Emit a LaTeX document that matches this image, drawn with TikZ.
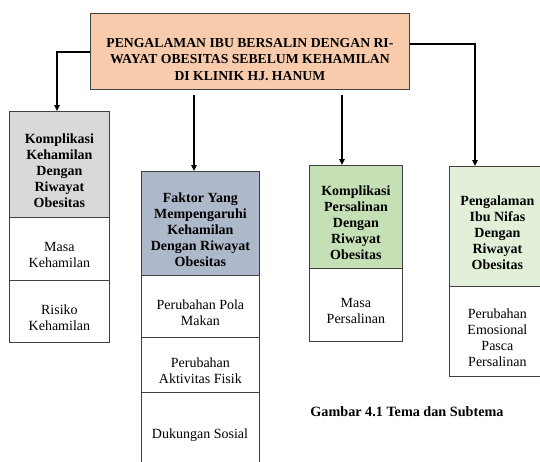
\documentclass[tikz,border=0pt]{standalone}
\usepackage{fontspec}
\setmainfont{Liberation Serif}
\usetikzlibrary{arrows.meta}
\definecolor{peach}{HTML}{F8CBAD}
\definecolor{grayh}{HTML}{D9D9D9}
\definecolor{blueh}{HTML}{ADB9CA}
\definecolor{greenh}{HTML}{C5E0B4}
\definecolor{lgreenh}{HTML}{E2F0D9}
\definecolor{bordc}{HTML}{404040}
\tikzset{
  cell/.style={draw=bordc, line width=0.8pt, anchor=north west, inner sep=0pt},
  hd/.style={font=\fontsize{14}{16}\selectfont\bfseries, align=center, inner sep=0pt},
  sb/.style={font=\fontsize{14}{16}\selectfont, align=center, inner sep=0pt},
  arr/.style={line width=1.3pt, -{Triangle[length=6pt,width=5.5pt]}},
}
\begin{document}
\begin{tikzpicture}[x=1pt,y=-1pt]
\useasboundingbox (0,0) rectangle (540,461);
\clip (0,0) rectangle (540,461);
\fill[white] (0,0) rectangle (540,461);
% top
\node[cell, fill=peach, minimum width=319pt, minimum height=76pt] (top) at (90,13) {};
\node[hd, font=\fontsize{13.7}{16.5}\selectfont\bfseries] (topt) at ([yshift=-8pt]top.center) {PENGALAMAN IBU BERSALIN DENGAN RI-\\WAYAT OBESITAS SEBELUM KEHAMILAN\\DI KLINIK HJ. HANUM};
% column 1
\node[cell, fill=grayh, minimum width=100pt, minimum height=106pt] (b1h) at (9,111) {};
\node[cell, minimum width=100pt, minimum height=63pt] (b1a) at (9,217) {};
\node[cell, minimum width=100pt, minimum height=62pt] (b1b) at (9,280) {};
\node[hd] (b1ht) at ([yshift=-6pt]b1h.center) {Komplikasi\\Kehamilan\\Dengan\\Riwayat\\Obesitas};
\node[sb] (b1at) at ([yshift=-6pt]b1a.center) {Masa\\Kehamilan};
\node[sb] (b1bt) at ([yshift=-6pt]b1b.center) {Risiko\\Kehamilan};
% column 2
\node[cell, fill=blueh, minimum width=118pt, minimum height=104pt] (b2h) at (141,171) {};
\node[cell, minimum width=118pt, minimum height=62pt] (b2a) at (141,275) {};
\node[cell, minimum width=118pt, minimum height=55pt] (b2b) at (141,337) {};
\node[cell, minimum width=118pt, minimum height=74pt] (b2c) at (141,392) {};
\node[hd] (b2ht) at ([yshift=-6pt]b2h.center) {Faktor Yang\\Mempengaruhi\\Kehamilan\\Dengan Riwayat\\Obesitas};
\node[sb] (b2at) at ([yshift=-6pt]b2a.center) {Perubahan Pola\\Makan};
\node[sb] (b2bt) at ([yshift=-6pt]b2b.center) {Perubahan\\Aktivitas Fisik};
\node[sb] (b2ct) at (200,435) {Dukungan Sosial};
% column 3
\node[cell, fill=greenh, minimum width=93pt, minimum height=103pt] (b3h) at (309,165) {};
\node[cell, minimum width=93pt, minimum height=73pt] (b3a) at (309,268) {};
\node[hd] (b3ht) at ([yshift=-6pt]b3h.center) {Komplikasi\\Persalinan\\Dengan\\Riwayat\\Obesitas};
\node[sb] (b3at) at ([yshift=-6pt]b3a.center) {Masa\\Persalinan};
% column 4
\node[cell, fill=lgreenh, minimum width=96pt, minimum height=120pt] (b4h) at (449,166) {};
\node[cell, minimum width=96pt, minimum height=90pt] (b4a) at (449,286) {};
\node[hd] (b4ht) at ([yshift=-6pt]b4h.center) {Pengalaman\\Ibu Nifas\\Dengan\\Riwayat\\Obesitas};
\node[sb] (b4at) at ([yshift=-6pt]b4a.center) {Perubahan\\Emosional\\Pasca\\Persalinan};
% caption
\node[font=\fontsize{14.2}{16}\selectfont\bfseries, inner sep=0pt] (cap) at (407,412) {Gambar 4.1 Tema dan Subtema};
% connectors
\coordinate (l1) at (57,52);
\coordinate (r1) at (475,44);
\coordinate (m2) at (194,95);
\coordinate (m3) at (342,95);
\draw[arr] (l1 -| top.west) -- (l1) -- (l1 |- b1h.north);
\draw[arr] (r1 -| top.east) -- (r1) -- (r1 |- b4h.north);
\draw[arr] (m2) -- (m2 |- b2h.north);
\draw[arr] (m3) -- (m3 |- b3h.north);
\end{tikzpicture}
\end{document}
